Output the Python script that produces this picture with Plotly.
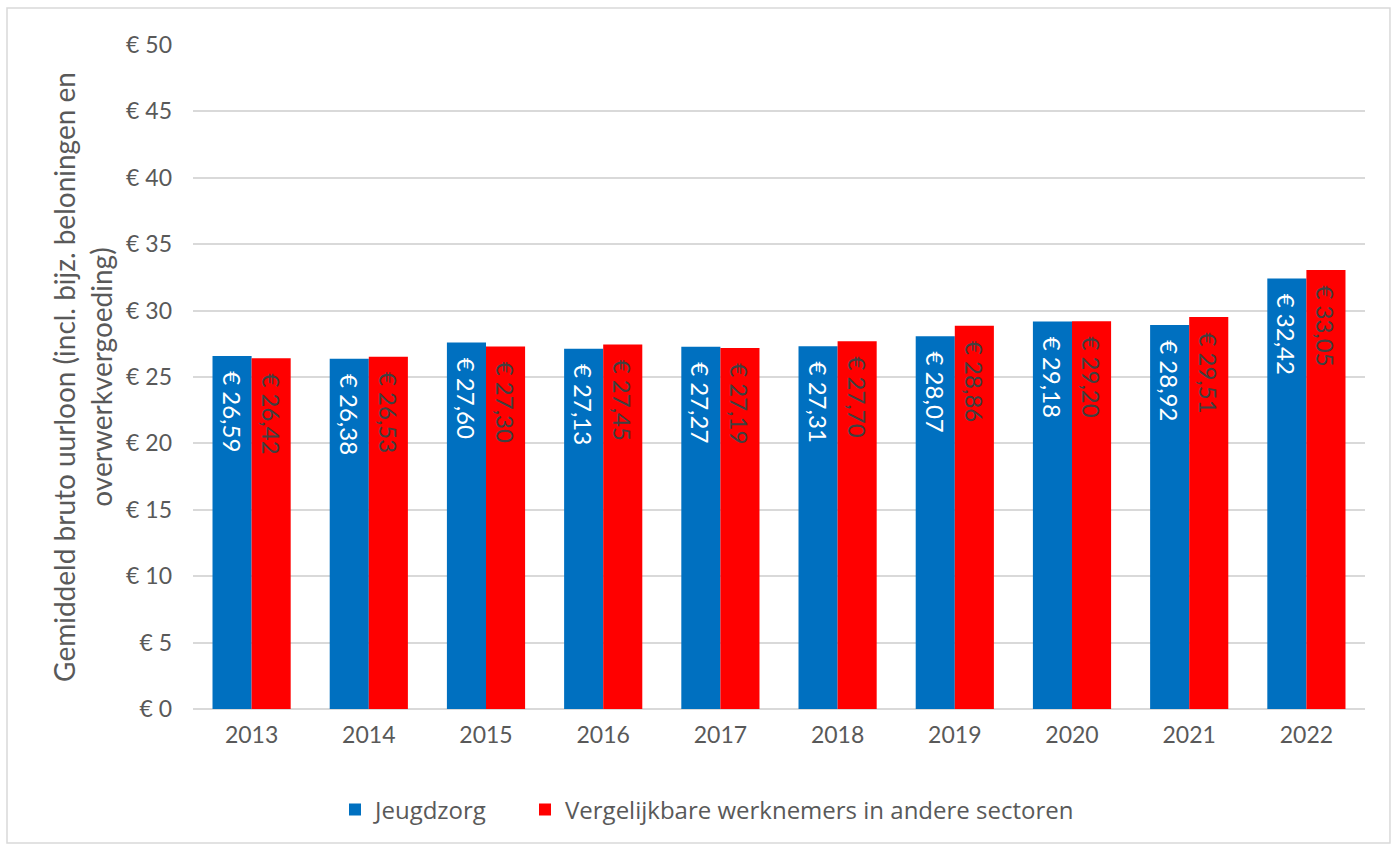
import plotly.graph_objects as go

years = ["2013", "2014", "2015", "2016", "2017", "2018", "2019", "2020", "2021", "2022"]
jeugdzorg = [26.59, 26.38, 27.60, 27.13, 27.27, 27.31, 28.07, 29.18, 28.92, 32.42]
vergelijkbaar = [26.42, 26.53, 27.30, 27.45, 27.19, 27.70, 28.86, 29.20, 29.51, 33.05]
series_names = ["Jeugdzorg", "Vergelijkbare werknemers in andere sectoren"]

FONT = "Lato, 'Open Sans', sans-serif"
LEGFONT = dict(family="'Open Sans', Lato, sans-serif", size=24, color="#595959")

def fmt(v):
    return "\u00a0\u00a0€ " + f"{v:.2f}".replace(".", ",")

fig = go.Figure()
fig.add_trace(go.Bar(
    x=years, y=jeugdzorg, name=series_names[0], legend="legend",
    marker=dict(color="#0070C0", line=dict(width=0)),
    text=[fmt(v) for v in jeugdzorg], textposition="inside",
    insidetextanchor="end", textangle=90,
    textfont=dict(family=FONT, size=24, color="white"),
    hoverinfo="x+y",
))
fig.add_trace(go.Bar(
    x=years, y=vergelijkbaar, name=series_names[1], legend="legend2",
    marker=dict(color="#FF0000", line=dict(width=0)),
    text=[fmt(v) for v in vergelijkbaar], textposition="inside",
    insidetextanchor="end", textangle=90,
    textfont=dict(family=FONT, size=24, color="#404040"),
    hoverinfo="x+y",
))

PW = 1397 - 193 - 32
def px_to_paper(px):
    return (px - 193) / PW

fig.update_layout(
    width=1397, height=844,
    margin=dict(l=193, r=32, t=45, b=135),
    paper_bgcolor="white", plot_bgcolor="white",
    barmode="group", bargap=0.333, bargroupgap=0,
    uniformtext=dict(mode=False),
    font=dict(family=FONT, color="#595959", size=22),
    legend=dict(orientation="h", x=px_to_paper(335), xanchor="left", y=-0.152, yanchor="middle",
                font=LEGFONT, itemwidth=30, bgcolor="rgba(0,0,0,0)"),
    legend2=dict(orientation="h", x=px_to_paper(525), xanchor="left", y=-0.152, yanchor="middle",
                 font=LEGFONT, itemwidth=30, bgcolor="rgba(0,0,0,0)"),
    showlegend=True,
    xaxis=dict(showgrid=False, showline=False, ticks="", ticklabelstandoff=10,
               tickfont=dict(size=23, color="#595959")),
    yaxis=dict(range=[0, 50], dtick=5, tickprefix="€ ", showgrid=True,
               gridcolor="#D9D9D9", gridwidth=1.5, zeroline=True, zerolinecolor="#D9D9D9",
               zerolinewidth=1.5, showline=False, ticks="", ticklabelstandoff=20,
               tickfont=dict(size=23, color="#595959"),
               title=dict(text="Gemiddeld bruto uurloon (incl. bijz. beloningen en<br>overwerkvergoeding)",
                          font=dict(size=28, color="#595959"), standoff=5)),
    shapes=[dict(type="rect", xref="paper", yref="paper",
                 x0=-0.1587, x1=1.0213, y0=-0.2018, y1=1.0557,
                 line=dict(color="#D9D9D9", width=1.5), fillcolor="rgba(0,0,0,0)", layer="below")],
)

fig.write_html("out.html", config={"displayModeBar": False})
with open("out.html", "r", encoding="utf-8") as f:
    html = f.read()
html = html.replace("<body>", '<body style="margin:0;padding:0;">', 1)
with open("out.html", "w", encoding="utf-8") as f:
    f.write(html)
